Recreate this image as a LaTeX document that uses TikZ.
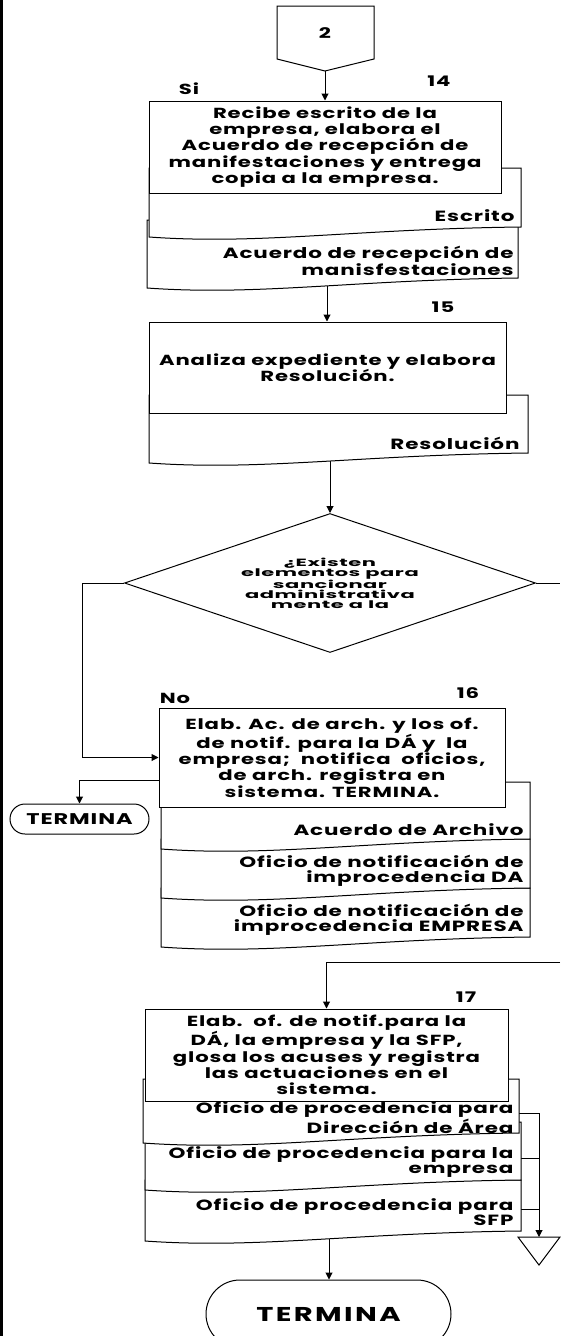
\documentclass[tikz,border=0pt]{standalone}
\usepackage{fontspec}
\newfontfamily\flowfont{Poppins}[FakeStretch=1.45, LetterSpace=6]
\newfontfamily\diafont{Poppins}[FakeStretch=2, LetterSpace=5]
\usepackage{tikz}
\usetikzlibrary{shapes.geometric, shapes.misc, arrows.meta, positioning, backgrounds}

% sheet with a wavy lower edge: left, right, top, bottom (right corner)
\newcommand{\docsheet}[4]{%
  \filldraw[sheet] (#1,#3) -- (#2,#3) -- (#2,#4)
    .. controls ({#2-0.45*(#2-#1)},#4+2) and ({#1+0.3*(#2-#1)},#4+18) .. (#1,#4+10) -- cycle;
}

\begin{document}
\begin{tikzpicture}[
    x=1pt, y=-1pt,
    line width=1pt,
    proc/.style={rectangle, draw, fill=white, line width=1pt, align=center, inner sep=0pt, font=\flowfont\bfseries\fontsize{14.6}{16.3}\selectfont},
    sheet/.style={draw, fill=white, line width=1pt},
    doclabel/.style={anchor=east, align=right, inner sep=0pt, font=\flowfont\bfseries\fontsize{14.8}{15}\selectfont},
    tag/.style={font=\flowfont\bfseries\fontsize{14.6}{16}\selectfont},
    decision/.style={diamond, aspect=3, draw, fill=white, inner sep=0pt, align=center, font=\diafont\bfseries\fontsize{10.5}{9.6}\selectfont},
    term/.style={rounded rectangle, draw, fill=white, inner sep=0pt, font=\flowfont\bfseries\fontsize{15.5}{16}\selectfont},
    flow/.style={-{Triangle[length=7pt,width=7pt]}, line width=1pt}
]
\useasboundingbox (0,0) rectangle (560,1336);
\fill (0,0) rectangle (2.5,1336);

% off-page connector 2
\draw[fill=white] (277,6) -- (374,6) -- (374,59) -- (325,71) -- (277,59) -- cycle;
\node[tag] (p2) at (325,33) {2};
\coordinate (c2) at (325,71);

% 14
\docsheet{147}{518}{220}{278}
\docsheet{149}{521}{168}{227}
\node[proc, minimum width=352pt, minimum height=92pt] (b14) at (325,147) {Recibe escrito de la\\empresa, elabora el\\Acuerdo de recepción de\\manifestaciones y entrega\\copia a la empresa.};
\node[doclabel] (l14a) at (515,216) {Escrito};
\node[doclabel] (l14b) at (514,260.5) {Acuerdo de recepción de\\manisfestaciones};
\node[tag] (si) at (189,89) {Si};
\node[tag] (n14) at (439,81) {14};

% 15
\docsheet{149}{528}{395}{453}
\node[proc, minimum width=357pt, minimum height=91pt] (b15) at (327.5,367.5) {Analiza expediente y elabora\\Resolución.};
\node[doclabel] (l15) at (520,443) {Resolución};
\node[tag] (n15) at (443,307) {15};

% decision
\node[decision, minimum width=411pt, minimum height=139pt] (dia) at (330,583) {¿Existen\\elementos para\\sancionar\\administrativa\\mente a la};

% 16
\docsheet{161}{530}{888}{937}
\docsheet{161}{530}{839}{888}
\docsheet{161}{530}{782}{839}
\node[proc, minimum width=346pt, minimum height=99pt] (b16) at (332,757.5) {Elab. Ac. de arch. y los of.\\de notif. para la DÁ y\ \ la\\empresa;\ \ notifica\ \ oficios,\\de arch. registra en\\sistema. TERMINA.};
\node[doclabel] (l16a) at (524,830) {Acuerdo de Archivo};
\node[doclabel] (l16b) at (524,870.5) {Oficio de notificación de\\improcedencia DA};
\node[doclabel] (l16c) at (524,919.5) {Oficio de notificación de\\improcedencia EMPRESA};
\node[tag] (no) at (175,698) {No};
\node[tag] (n16) at (468,693) {16};
\node[term, minimum width=139pt, minimum height=30pt] (fin16) at (79.5,819) {TERMINA};

% 17
\docsheet{145}{521}{1180}{1231}
\docsheet{145}{521}{1122}{1180}
\docsheet{143}{519}{1079}{1133}
\node[proc, minimum width=363pt, minimum height=92pt] (b17) at (326.5,1055) {Elab.\ \ of. de notif.para la\\DÁ, la empresa y la SFP,\\glosa los acuses y registra\\las actuaciones en el\\sistema.};
\node[doclabel] (l17a) at (514,1117.5) {Oficio de procedencia para\\Dirección de Área};
\node[doclabel] (l17b) at (514,1162) {Oficio de procedencia para la\\empresa};
\node[doclabel] (l17c) at (514,1212.5) {Oficio de procedencia para\\SFP};
\node[tag] (n17) at (466,997) {17};

% off-page mark
\draw[fill=white] (518,1237) -- (560,1237) -- (539,1265) -- cycle;
\coordinate (offp) at (539,1237);

\node[term, minimum width=245pt, minimum height=68pt] (fin) at (328.5,1314) {\fontsize{20}{20}\selectfont\addfontfeature{LetterSpace=12}TERMINA};

% connectors
\begin{scope}[on background layer]
\draw[flow] (c2) -- (b14.north);
\coordinate (o14) at (327,270);
\draw[flow] (o14) -- (o14 |- b15.north);
\coordinate (o15) at (330,445);
\draw[flow] (o15) -- (dia.north);
\draw[flow] (dia.west) -- ++(-42,0) |- (b16.west);
\coordinate (outR) at (560,583);
\draw (dia.east) -- (outR);
\draw[flow] ([yshift=-22.5pt]b16.west) -| (fin16.north);
\coordinate (inR) at (560,962);
\draw[flow] (inR) -| (b17.north);
\coordinate (o17) at (329,1225);
\draw[flow] (o17) -- (o17 |- fin.north);
\coordinate (s17a) at (519,1113);
\coordinate (s17b) at (521,1158);
\coordinate (s17c) at (521,1209);
\draw[flow] (s17a) -| (offp);
\draw (s17b) -- (s17b -| offp);
\draw (s17c) -- (s17c -| offp);
\end{scope}
\end{tikzpicture}
\end{document}
